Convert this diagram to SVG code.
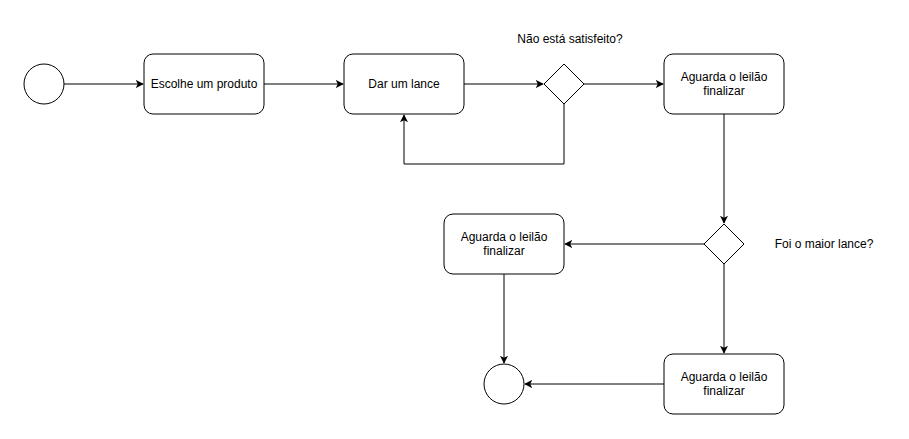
<svg xmlns="http://www.w3.org/2000/svg" width="909" height="439" viewBox="0 0 909 439">
<style>
.s{fill:#fff;stroke:#000;stroke-width:1}
.e{fill:none;stroke:#000;stroke-width:1}
text{font-family:"Liberation Sans",Arial,sans-serif;font-size:12px;fill:#000;text-anchor:middle}
</style>
<defs>
<marker id="a" viewBox="0 0 10 10" refX="9" refY="5" markerWidth="8" markerHeight="8" markerUnits="userSpaceOnUse" orient="auto">
<path d="M0,0 L10,5 L0,10 L2.5,5 Z" fill="#000"/>
</marker>
</defs>
<rect width="909" height="439" fill="#fff"/>
<g id="edges">
<path class="e" d="M64,84 H143" marker-end="url(#a)"/>
<path class="e" d="M264,84 H343" marker-end="url(#a)"/>
<path class="e" d="M464,84 H543" marker-end="url(#a)"/>
<path class="e" d="M584,84 H663" marker-end="url(#a)"/>
<path class="e" d="M564,104 V164 H404 V115" marker-end="url(#a)"/>
<path class="e" d="M724,114 V223" marker-end="url(#a)"/>
<path class="e" d="M704,244 H565" marker-end="url(#a)"/>
<path class="e" d="M504,274 V363" marker-end="url(#a)"/>
<path class="e" d="M724,264 V353" marker-end="url(#a)"/>
<path class="e" d="M664,384 H525" marker-end="url(#a)"/>
</g>
<g id="start"><circle class="s" cx="44" cy="84" r="20"/></g>
<g id="escolhe"><rect class="s" x="144" y="54" width="120" height="60" rx="9"/><text x="204" y="88">Escolhe um produto</text></g>
<g id="lance"><rect class="s" x="344" y="54" width="120" height="60" rx="9"/><text x="404" y="88">Dar um lance</text></g>
<g id="dec1"><path class="s" d="M564,64 L584,84 L564,104 L544,84 Z"/></g>
<g id="lbl1"><text x="570" y="43">Não está satisfeito?</text></g>
<g id="aguarda1"><rect class="s" x="664" y="54" width="120" height="60" rx="9"/><text x="724" y="81">Aguarda o leilão</text><text x="724" y="95">finalizar</text></g>
<g id="dec2"><path class="s" d="M724,224 L744,244 L724,264 L704,244 Z"/></g>
<g id="lbl2"><text x="824" y="248">Foi o maior lance?</text></g>
<g id="aguarda2"><rect class="s" x="444" y="214" width="120" height="60" rx="9"/><text x="504" y="241">Aguarda o leilão</text><text x="504" y="255">finalizar</text></g>
<g id="aguarda3"><rect class="s" x="664" y="354" width="120" height="60" rx="9"/><text x="724" y="381">Aguarda o leilão</text><text x="724" y="395">finalizar</text></g>
<g id="end"><circle class="s" cx="504" cy="384" r="20"/></g>
</svg>
